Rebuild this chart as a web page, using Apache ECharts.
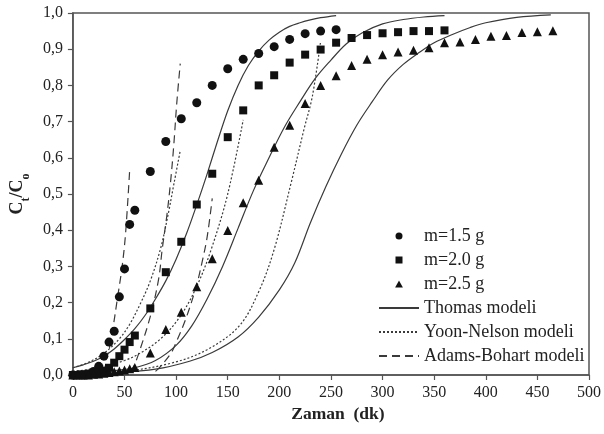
<!DOCTYPE html>
<html>
<head>
<meta charset="utf-8">
<script src="https://cdn.jsdelivr.net/npm/echarts@6/dist/echarts.min.js"></script>
<style>html,body{margin:0;padding:0;background:#fff;}#c{width:604px;height:434px;}</style>
</head>
<body>
<div id="c"></div>
<script>
// ---- Experimental data ----
const circleTime = [0,5,10,15,20,25,30,35,40,45,50,55,60,75,90,105,120,135,150,165,180,195,210,225,240,255];
const circleVal  = [0,0,0,0.003,0.01,0.024,0.052,0.091,0.121,0.216,0.293,0.416,0.455,0.562,0.645,0.708,0.752,0.80,0.846,0.872,0.888,0.907,0.927,0.943,0.95,0.954];

const squareTime = [0,5,10,15,20,25,30,35,40,45,50,55,60,75,90,105,120,135,150,165,180,195,210,225,240,255,270,285,300,315,330,345,360];
const squareVal  = [0,0,0.002,0.003,0.005,0.008,0.012,0.02,0.034,0.052,0.07,0.091,0.109,0.184,0.284,0.368,0.471,0.556,0.657,0.731,0.80,0.828,0.863,0.885,0.899,0.918,0.931,0.939,0.944,0.947,0.95,0.95,0.952];

const triangleTime = [0,5,10,15,20,25,30,35,40,45,50,55,60,75,90,105,120,135,150,165,180,195,210,225,240,255,270,285,300,315,330,345,360,375,390,405,420,435,450,465];
const triangleVal  = [0,0,0,0,0.002,0.003,0.005,0.007,0.009,0.011,0.014,0.017,0.021,0.061,0.126,0.173,0.244,0.321,0.399,0.476,0.538,0.629,0.69,0.75,0.80,0.827,0.855,0.872,0.885,0.892,0.897,0.904,0.918,0.92,0.927,0.936,0.938,0.946,0.948,0.951];

// ---- Thomas model curves ----
const thomas1X = [0,10,20,30,40,50,60,70,80,90,100,110,120,130,140,150,160,170,180,190,200,210,220,230,240,255];
const thomas1Y = [0.02,0.028,0.038,0.052,0.072,0.098,0.128,0.165,0.21,0.26,0.32,0.39,0.47,0.555,0.645,0.73,0.80,0.855,0.895,0.925,0.947,0.963,0.973,0.981,0.987,0.993];
const thomas2X = [0,20,40,60,80,100,115,130,145,160,175,190,205,220,235,250,265,280,300,320,340,360];
const thomas2Y = [0.004,0.007,0.012,0.02,0.04,0.082,0.135,0.21,0.30,0.405,0.51,0.60,0.685,0.755,0.82,0.87,0.915,0.945,0.97,0.982,0.989,0.993];
const thomas3X = [0,40,80,113,135,160,180,200,215,230,245,260,275,290,305,320,335,350,367,385,400,430,463];
const thomas3Y = [0.002,0.006,0.016,0.038,0.062,0.105,0.16,0.235,0.31,0.42,0.52,0.61,0.69,0.755,0.815,0.858,0.89,0.918,0.94,0.96,0.973,0.988,0.995];

// ---- Yoon-Nelson model curves ----
const yoon1X = [0,15,30,45,55,65,75,85,92,98,104];
const yoon1Y = [0.02,0.035,0.06,0.1,0.14,0.195,0.26,0.35,0.44,0.53,0.62];
const yoon2X = [0,25,50,65,85,104,120,134,150,165];
const yoon2Y = [0.01,0.02,0.04,0.06,0.1,0.162,0.245,0.347,0.5,0.705];
const yoon3X = [0,50,97,130,161,180,195,211,224,232,240];
const yoon3Y = [0.002,0.01,0.034,0.07,0.135,0.23,0.347,0.526,0.68,0.77,0.922];

// ---- Adams-Bohart model curves ----
const adams1X = [25,33,38,43,47.7,51,55];
const adams1Y = [0.01,0.05,0.117,0.209,0.30,0.39,0.566];
const adams2X = [55,59,65,75,83,86.5,91,94.5,97.6,100.6,104];
const adams2Y = [0.01,0.024,0.07,0.162,0.264,0.347,0.44,0.53,0.63,0.75,0.86];
const adams3X = [80,85,95,100,110,120,125,130,135];
const adams3Y = [0.01,0.024,0.06,0.09,0.16,0.25,0.31,0.38,0.488];

// ---- Axis ticks ----
const xTicks = {min: 0, max: 500, step: 50};
const yTicks = {min: 0, max: 1, step: 0.1};

const legendNames = ['m=1.5 g','m=2.0 g','m=2.5 g','Thomas modeli','Yoon-Nelson modeli','Adams-Bohart modeli'];

function pairs(xs, ys) { return xs.map((x, i) => [x, ys[i]]); }

const FONT = 'Liberation Serif';
const INK = '#222';
const LINE = '#3a3a3a';

function scatter(name, symbol, size, xs, ys) {
  return {
    name, type: 'scatter', symbol, symbolSize: size,
    itemStyle: {color: '#111', opacity: 1},
    data: pairs(xs, ys), z: 5
  };
}
function curve(name, type, xs, ys) {
  return {
    name, type: 'line', showSymbol: false, symbol: 'none',
    smooth: 0.35,
    lineStyle: {color: LINE, width: 1.2, type: type},
    itemStyle: {color: LINE},
    data: pairs(xs, ys), z: 3
  };
}
const dashed = [8, 5];
const dotted = [2, 2];
const hidden = {color: 'rgba(0,0,0,0)', borderColor: 'rgba(0,0,0,0)', borderWidth: 0};

const chart = echarts.init(document.getElementById('c'), null, {renderer: 'canvas'});
chart.setOption({
  animation: false,
  backgroundColor: '#fff',
  grid: {left: 72, right: 12, top: 13, bottom: 59, show: true, borderColor: '#555', borderWidth: 1.5, backgroundColor: 'transparent'},
  legend: {
    data: [
      {name: legendNames[0], icon: 'circle'},
      {name: legendNames[1], icon: 'path://M0,0H10V10H0Z'},
      {name: legendNames[2], icon: 'path://M5,0L10,9L0,9Z'},
      {name: legendNames[3], itemStyle: hidden},
      {name: legendNames[4], itemStyle: hidden},
      {name: legendNames[5], itemStyle: hidden}
    ],
    symbolKeepAspect: true,
    orient: 'vertical', left: 373, top: 222,
    itemWidth: 40, itemHeight: 7, itemGap: 6,
    textStyle: {fontFamily: FONT, fontSize: 18, color: INK, padding: [0, 0, 0, 0]}
  },
  xAxis: {
    type: 'value', min: xTicks.min, max: xTicks.max, interval: xTicks.step,
    name: 'Zaman  (dk)', nameLocation: 'middle', nameGap: 25,
    nameTextStyle: {fontFamily: FONT, fontSize: 17.5, fontWeight: 'bold', color: INK, padding: [0, 0, 0, 14]},
    axisLine: {lineStyle: {color: '#555', width: 1.5}},
    axisTick: {show: true, inside: false, length: 5, lineStyle: {color: '#555', width: 1.2}},
    axisLabel: {fontFamily: FONT, fontSize: 16, color: INK, margin: 10},
    splitLine: {show: false}
  },
  yAxis: {
    type: 'value', min: yTicks.min, max: yTicks.max, interval: yTicks.step,
    name: '{a|C}{b|t}{a|/C}{b|o}', nameLocation: 'middle', nameGap: 37,
    nameTextStyle: {
      fontFamily: FONT, color: INK,
      rich: {
        a: {fontFamily: FONT, fontSize: 18, fontWeight: 'bold', color: INK, verticalAlign: 'top', lineHeight: 18},
        b: {fontFamily: FONT, fontSize: 12, fontWeight: 'bold', color: INK, verticalAlign: 'bottom', lineHeight: 24}
      }
    },
    axisLine: {lineStyle: {color: '#555', width: 1.5}},
    axisTick: {show: true, inside: false, length: 5, lineStyle: {color: '#555', width: 1.2}},
    axisLabel: {fontFamily: FONT, fontSize: 16, color: INK, margin: 10,
      formatter: v => v.toFixed(1).replace('.', ',')},
    splitLine: {show: false}
  },
  series: [
    scatter(legendNames[0], 'circle', 9, circleTime, circleVal),
    scatter(legendNames[1], 'rect', 8, squareTime, squareVal),
    scatter(legendNames[2], 'triangle', 9, triangleTime, triangleVal),
    curve(legendNames[3], 'solid', thomas1X, thomas1Y),
    curve(legendNames[3], 'solid', thomas2X, thomas2Y),
    curve(legendNames[3], 'solid', thomas3X, thomas3Y),
    curve(legendNames[4], dotted, yoon1X, yoon1Y),
    curve(legendNames[4], dotted, yoon2X, yoon2Y),
    curve(legendNames[4], dotted, yoon3X, yoon3Y),
    curve(legendNames[5], dashed, adams1X, adams1Y),
    curve(legendNames[5], dashed, adams2X, adams2Y),
    curve(legendNames[5], dashed, adams3X, adams3Y)
  ]
});
</script>
</body>
</html>
